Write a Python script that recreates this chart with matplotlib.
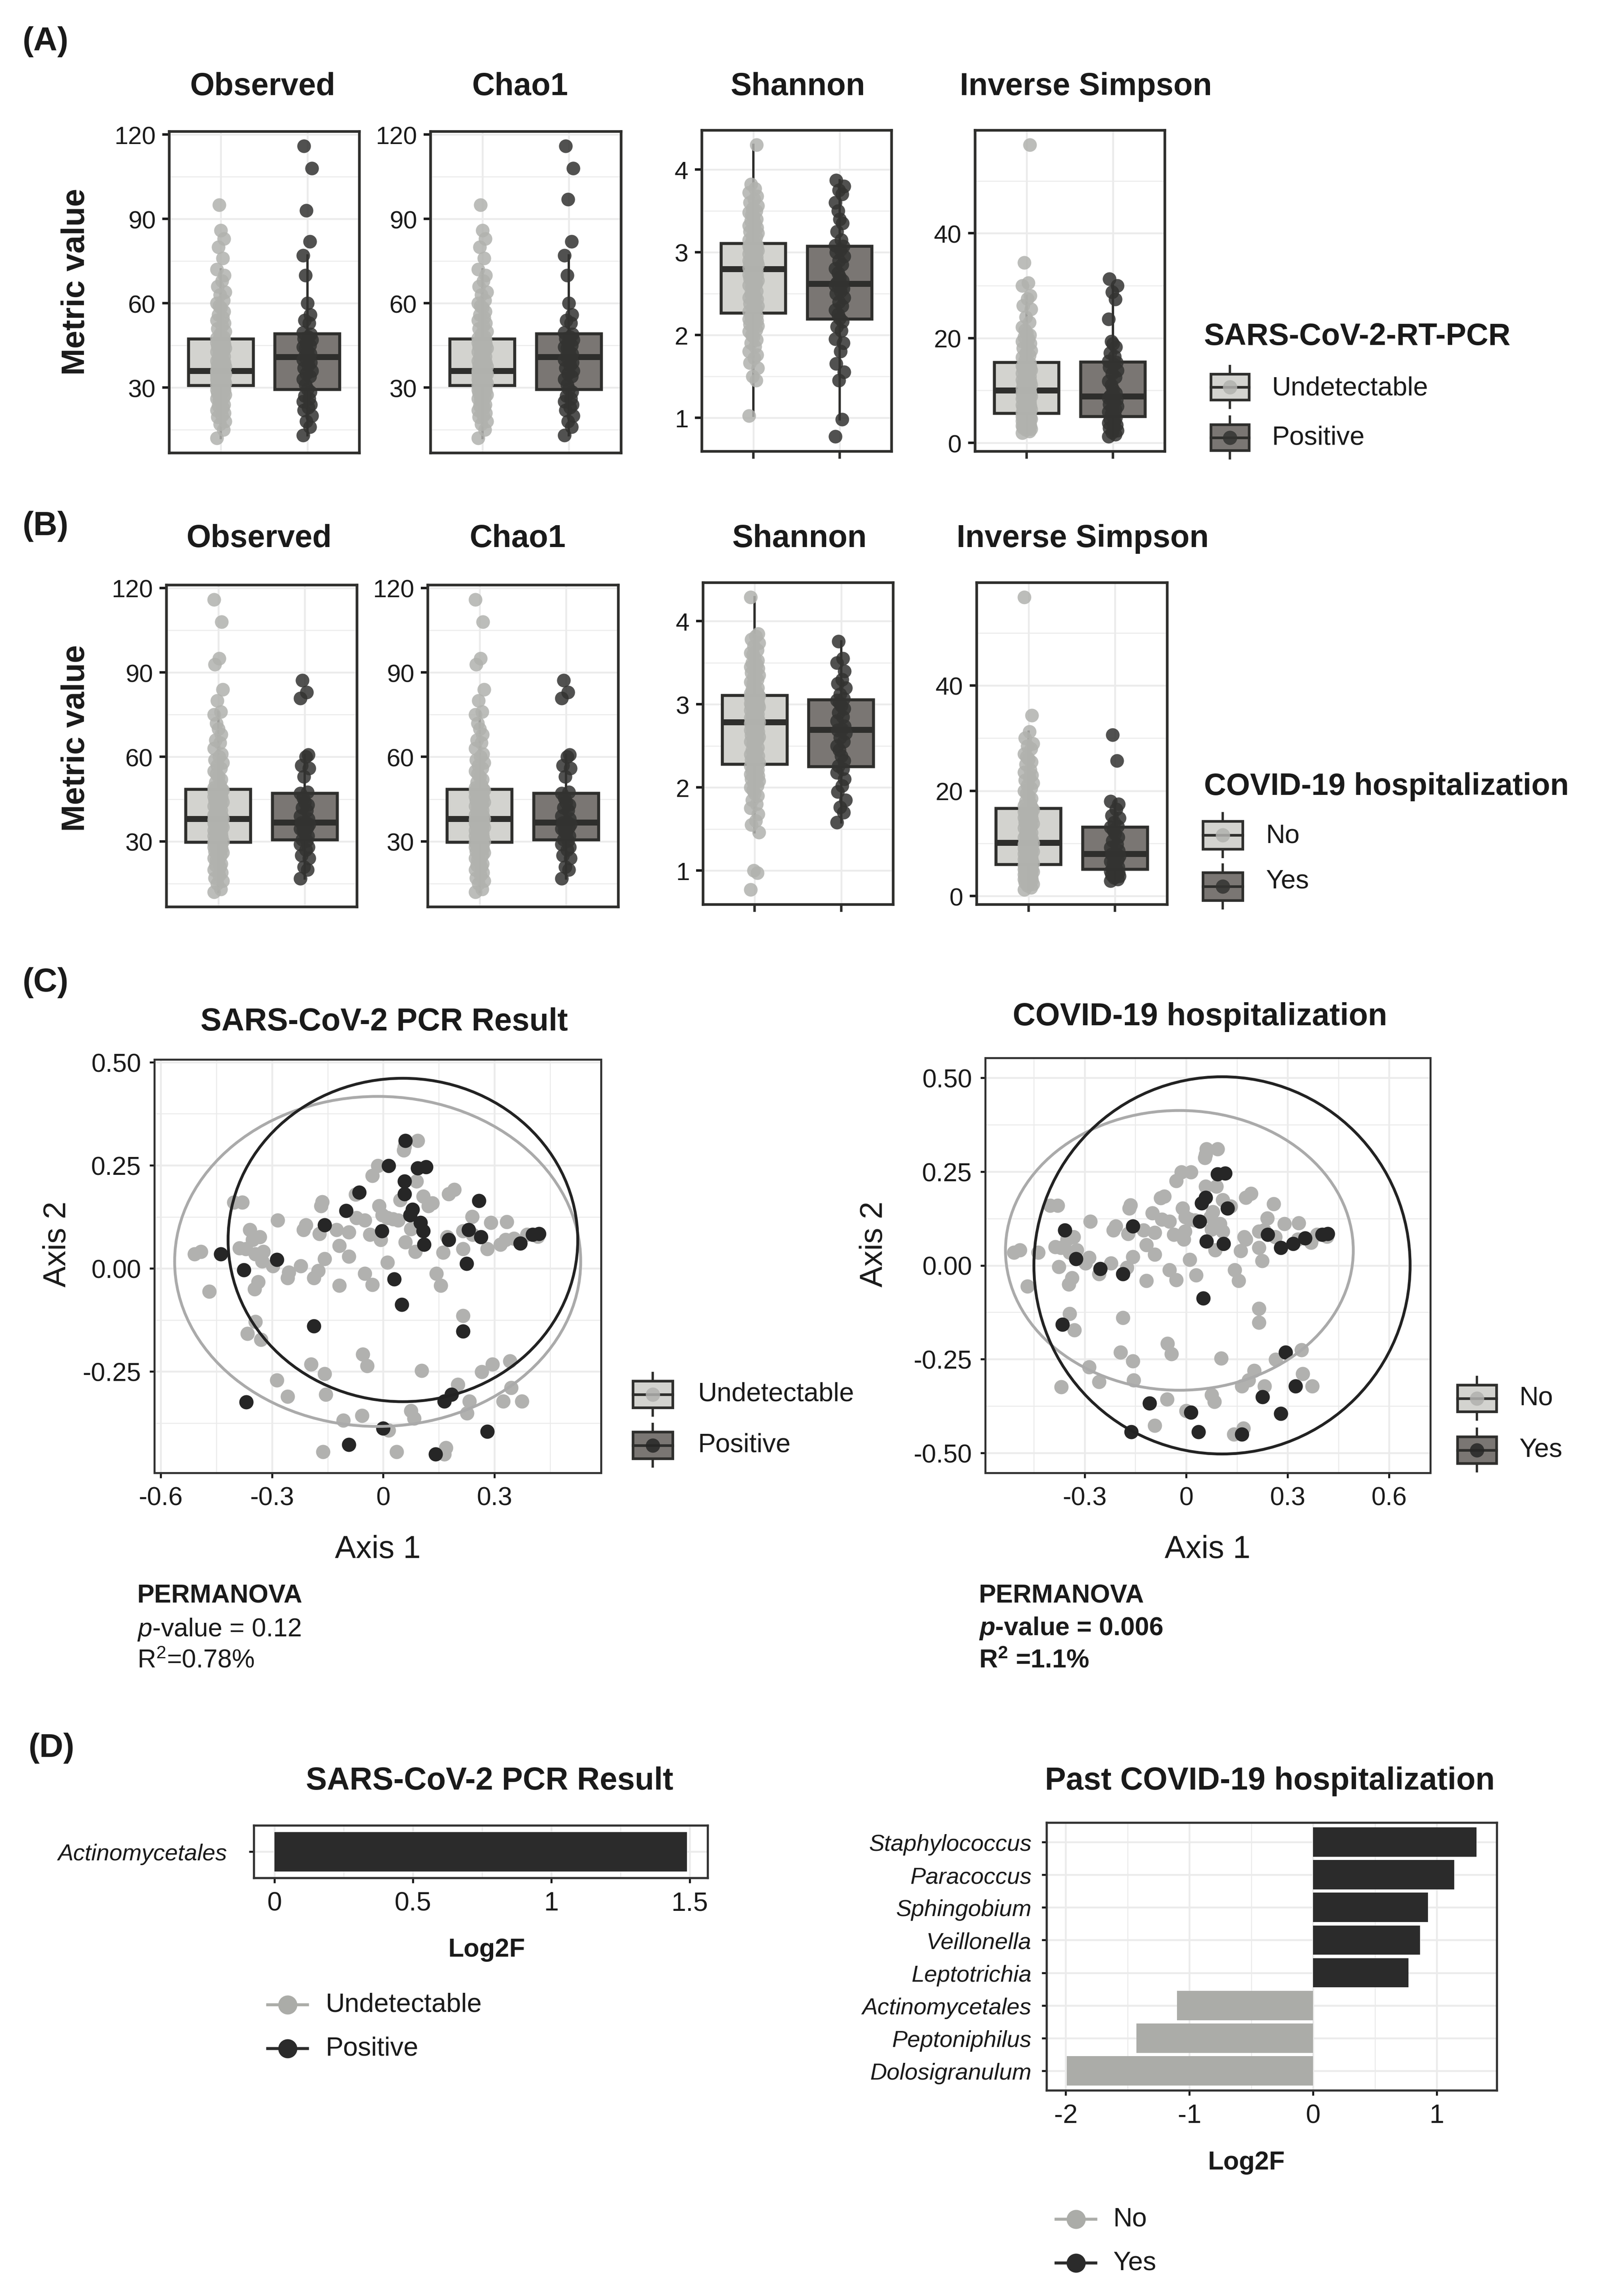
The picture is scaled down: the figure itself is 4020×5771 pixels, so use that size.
import numpy as np
import matplotlib
matplotlib.use('Agg')
import matplotlib.pyplot as plt
from matplotlib.patches import Rectangle, Ellipse

# ---------------- data ----------------
# (A) alpha diversity by SARS-CoV-2 RT-PCR result
obs_pcr_undet = [12, 15, 17, 18, 19.5, 20, 21, 22, 23, 23.5, 24, 25, 25.5, 26, 26.5, 27, 27.5, 28, 28.5, 29, 29.2, 29.6, 30, 30.2, 30.4, 30.6,
                 30.8, 31, 31.4, 31.6, 32, 32.2, 32.5, 32.8, 33, 33.2, 33.5, 33.7, 34, 34.2, 34.4, 34.6, 34.8, 35, 35.1, 35.3, 35.4, 35.6, 35.7, 35.8, 35.9, 35.9,
                 36.1, 36.6, 37, 37.5, 38, 38.6, 39, 39.5, 40, 40.7, 41, 41.6, 42, 42.8, 43, 43.5, 44, 44.6, 45, 45.4, 46, 46.3, 46.7, 47, 47.1, 47.2,
                 47.6, 48, 49, 50, 51, 52, 53, 54, 55, 56, 57, 58.5, 59, 60, 61, 63, 64, 66, 68, 70, 72, 76, 80, 83, 86, 95]
obs_pcr_pos = [13, 16, 18, 20, 22, 23, 24, 25, 26, 27, 28.5,
               29.5, 31, 33, 34, 35, 36, 37, 38, 39, 40, 40.8,
               41, 42, 43, 44, 44.5, 45, 46, 47, 47.5, 48, 49,
               49.5, 53, 54, 56, 60, 70, 77, 82, 93, 108, 116]
chao1_pcr_undet = obs_pcr_undet
chao1_pcr_pos = [13, 16, 18, 20, 22, 23, 24, 25, 26, 27, 28.5,
                 29.5, 31, 33, 34, 35, 36, 37, 38, 39, 40, 40.8,
                 41, 42, 43, 44, 44.5, 45, 46, 47, 47.5, 48, 49,
                 49.5, 53, 54, 56, 60, 70, 77, 82, 97, 108, 116]
shan_pcr_undet = [1.02, 1.45, 1.5, 1.6, 1.66, 1.72, 1.76, 1.8, 1.86, 1.9, 1.94, 1.98, 2.0, 2.04, 2.06, 2.09, 2.11, 2.13, 2.15, 2.17, 2.19, 2.2, 2.22, 2.23, 2.25, 2.26,
                  2.28, 2.31, 2.33, 2.35, 2.38, 2.4, 2.43, 2.45, 2.47, 2.5, 2.53, 2.55, 2.58, 2.6, 2.62, 2.64, 2.66, 2.68, 2.7, 2.72, 2.73, 2.75, 2.76, 2.78, 2.79, 2.8,
                  2.81, 2.82, 2.84, 2.85, 2.86, 2.88, 2.89, 2.9, 2.92, 2.93, 2.94, 2.96, 2.97, 2.98, 3.0, 3.01, 3.02, 3.04, 3.05, 3.06, 3.07, 3.08, 3.09, 3.09,
                  3.11, 3.13, 3.15, 3.18, 3.2, 3.23, 3.25, 3.28, 3.3, 3.32, 3.35, 3.38, 3.4, 3.43, 3.45, 3.48, 3.5, 3.53, 3.56, 3.6, 3.64, 3.68, 3.72, 3.77, 3.82, 4.3]
shan_pcr_pos = [0.77, 0.98, 1.45, 1.55, 1.65, 1.8, 1.9, 1.95, 2.05, 2.1, 2.16,
                2.2, 2.25, 2.3, 2.35, 2.4, 2.45, 2.5, 2.53, 2.56, 2.6, 2.61,
                2.63, 2.66, 2.7, 2.75, 2.8, 2.85, 2.9, 2.95, 3.0, 3.03, 3.07,
                3.08, 3.15, 3.25, 3.35, 3.4, 3.5, 3.6, 3.7, 3.75, 3.8, 3.87]
invs_pcr_undet = [1.9, 2.2, 2.5, 2.7, 2.9, 3.0, 3.2, 3.3, 3.5, 3.6, 3.8, 3.9, 4.0, 4.2, 4.3, 4.4, 4.6, 4.7, 4.8, 4.9, 5.0, 5.2, 5.3, 5.4, 5.5, 5.6,
                  5.8, 6.0, 6.3, 6.4, 6.7, 6.8, 7.1, 7.2, 7.4, 7.7, 7.8, 8.0, 8.3, 8.4, 8.5, 8.8, 8.9, 9.0, 9.2, 9.4, 9.5, 9.7, 9.8, 9.9, 10.0, 10.1,
                  10.3, 10.6, 10.8, 11.1, 11.3, 11.6, 11.8, 12.0, 12.3, 12.5, 12.7, 12.9, 13.2, 13.3, 13.6, 13.7, 13.9, 14.2, 14.3, 14.5, 14.7, 14.8, 15.0, 15.2,
                  15.4, 15.8, 16.3, 16.7, 17.1, 17.6, 18.1, 18.5, 19.0, 19.4, 19.8, 20.2, 20.6, 21.0, 21.5, 22.1, 23.0, 24.0, 25.5, 26.2, 27.5, 28.1, 30.0, 30.5, 34.4, 56.9]
invs_pcr_pos = [1.2, 1.6, 2.0, 2.4, 2.8, 3.1, 3.4, 3.8, 4.1, 4.5, 4.8,
                5.1, 5.5, 5.9, 6.3, 6.7, 7.0, 7.4, 7.8, 8.2, 8.6, 8.85,
                9.0, 9.5, 10.2, 11.0, 11.8, 12.5, 13.2, 13.8, 14.4, 15.0, 15.35,
                15.6, 16.5, 17.2, 18.3, 18.9, 19.4, 23.6, 27.4, 28.8, 30.0, 31.3]

# (B) alpha diversity by COVID-19 hospitalization
obs_hosp_no = [12, 13, 15, 16, 17, 18, 19, 20, 21, 21.5, 22, 23, 23.5, 24, 25, 25.5, 26, 26.5, 27, 27.5, 28, 28, 28.5, 29, 29, 29.3, 29.5, 29.6,
               29.8, 30, 30.5, 31, 31.5, 32, 32.5, 33, 33, 33.5, 34, 34, 34.5, 35, 35, 35.5, 36, 36, 36.5, 36.5, 37, 37, 37.2, 37.5, 37.7, 37.8, 37.9, 38,
               38.1, 38.5, 39, 39.5, 40, 40.5, 41, 41.5, 42, 42.5, 43, 43.5, 44, 44.5, 45, 45.5, 46, 46.5, 46.8, 47, 47.3, 47.5, 47.8, 48, 48.1, 48.2, 48.3, 48.4,
               48.6, 49, 50, 51, 52, 53, 54, 55, 56, 57, 58, 59, 60, 61, 63, 65, 66, 68, 70, 72, 75, 76, 80, 84, 92.8, 95, 107.9, 115.9]
obs_hosp_yes = [16.8, 20, 21, 24, 25, 27, 28, 29, 30.3, 30.7, 32, 33, 34, 34.5, 35, 35.5, 36, 36.6,
                36.8, 38, 39, 41, 42, 43, 44, 45.5, 47, 47.5, 53, 56, 57, 60, 60.8, 80.9, 83, 87.2]
chao1_hosp_no = obs_hosp_no
chao1_hosp_yes = obs_hosp_yes
shan_hosp_no = [0.77, 0.97, 1.0, 1.46, 1.55, 1.6, 1.68, 1.75, 1.8, 1.85, 1.9, 1.93, 1.97, 2.0, 2.02, 2.05, 2.08, 2.1, 2.12, 2.14, 2.16, 2.18, 2.2, 2.21, 2.23, 2.24, 2.26, 2.27,
                2.28, 2.3, 2.33, 2.35, 2.38, 2.4, 2.43, 2.45, 2.48, 2.5, 2.52, 2.55, 2.57, 2.59, 2.61, 2.63, 2.65, 2.67, 2.69, 2.7, 2.72, 2.73, 2.75, 2.76, 2.77, 2.78, 2.78, 2.785,
                2.79, 2.8, 2.82, 2.84, 2.85, 2.87, 2.88, 2.9, 2.91, 2.93, 2.94, 2.95, 2.97, 2.98, 2.99, 3.0, 3.01, 3.03, 3.04, 3.05, 3.06, 3.07, 3.08, 3.09, 3.1, 3.1, 3.105, 3.107,
                3.11, 3.13, 3.15, 3.18, 3.2, 3.22, 3.25, 3.27, 3.3, 3.33, 3.35, 3.38, 3.4, 3.43, 3.45, 3.48, 3.5, 3.53, 3.55, 3.6, 3.62, 3.65, 3.7, 3.74, 3.78, 3.82, 3.85, 4.29]
shan_hosp_yes = [1.58, 1.7, 1.76, 1.85, 1.95, 2.02, 2.1, 2.18, 2.22, 2.26, 2.32, 2.38, 2.45, 2.5, 2.55, 2.6, 2.65, 2.69,
                 2.7, 2.74, 2.8, 2.85, 2.9, 2.95, 2.98, 3.02, 3.05, 3.07, 3.12, 3.2, 3.25, 3.3, 3.4, 3.5, 3.55, 3.76]
invs_hosp_no = [1.2, 1.6, 2.0, 2.3, 2.6, 2.8, 3.0, 3.2, 3.4, 3.5, 3.7, 3.8, 4.0, 4.1, 4.3, 4.4, 4.6, 4.7, 4.9, 5.0, 5.1, 5.3, 5.4, 5.5, 5.6, 5.7, 5.8, 5.9,
                6.0, 6.2, 6.4, 6.6, 6.8, 7.0, 7.1, 7.3, 7.5, 7.7, 7.8, 8.0, 8.2, 8.3, 8.5, 8.7, 8.8, 9.0, 9.1, 9.3, 9.4, 9.5, 9.6, 9.7, 9.8, 9.9, 10.0, 10.05,
                10.2, 10.5, 10.8, 11.1, 11.4, 11.7, 12.0, 12.3, 12.6, 12.9, 13.2, 13.5, 13.8, 14.0, 14.3, 14.6, 14.9, 15.1, 15.3, 15.5, 15.7, 15.9, 16.0, 16.2, 16.3, 16.4, 16.5, 16.6,
                16.8, 17.2, 17.6, 18.0, 18.5, 19.0, 19.5, 20.0, 20.5, 21.0, 21.5, 22.0, 22.5, 23.0, 23.5, 24.0, 25.0, 25.5, 26.0, 26.5, 27.0, 28.0, 28.5, 29.0, 30.0, 31.2, 34.3, 56.8]
invs_hosp_yes = [2.9, 3.2, 3.5, 3.8, 4.0, 4.3, 4.5, 4.7, 4.95, 5.1, 5.5, 5.9, 6.3, 6.6, 7.0, 7.3, 7.6, 7.95,
                 8.05, 8.6, 9.2, 9.8, 10.5, 11.2, 11.9, 12.5, 13.05, 13.2, 14.0, 14.8, 15.3, 16.5, 17.5, 18.0, 25.7, 30.6]

metric_titles = ['Observed', 'Chao1', 'Shannon', 'Inverse Simpson']

# (C) PCoA coordinates, split by (PCR result, hospitalization)
neg_no_x = [-0.509, -0.491, -0.469, -0.402, -0.380, -0.387, -0.370, -0.352, -0.333, -0.344,
            -0.323, -0.347, -0.337, -0.344, -0.330, -0.297, -0.284, -0.258, -0.222, -0.215,
            -0.208, -0.175, -0.172, -0.168, -0.165, -0.158, -0.126, -0.118, -0.118, -0.093,
            -0.093, -0.075, -0.072, -0.050, -0.050, -0.036, -0.029, -0.029, -0.014, -0.011,
            -0.003, -0.007, 0.011, 0.011, 0.026, 0.055, 0.057, 0.075, 0.086, 0.093,
            0.089, 0.108, 0.132, 0.143, 0.155, 0.161, 0.172, 0.176, 0.191, 0.215,
            0.215, 0.240, 0.290, 0.330, 0.333, 0.387, 0.416,
            -0.194, -0.158, -0.155, -0.287, -0.258, -0.057, -0.055, -0.043, 0.075, 0.083,
            0.103, 0.169, 0.201, 0.215, 0.232, 0.265, 0.341, 0.344, 0.373]
neg_no_y = [0.035, 0.041, -0.056, 0.160, 0.160, 0.049, 0.047, 0.070, 0.076, 0.035,
            0.041, -0.050, -0.033, -0.129, -0.172, 0.006, 0.117, -0.023, 0.006, 0.094,
            0.105, -0.006, 0.084, 0.152, 0.161, 0.023, 0.094, 0.055, -0.041, 0.088,
            0.029, 0.180, 0.123, 0.117, -0.012, 0.082, -0.039, 0.225, 0.249, 0.152,
            0.129, 0.070, 0.123, 0.015, 0.120, 0.287, 0.295, 0.096, 0.041, 0.310,
            0.211, 0.175, 0.158, -0.012, -0.041, 0.039, 0.076, 0.181, 0.191, 0.047,
            0.091, 0.126, 0.111, 0.070, 0.113, 0.082, 0.077,
            -0.232, -0.255, -0.306, -0.271, -0.310, -0.357, -0.208, -0.236, -0.345, -0.363,
            -0.248, -0.435, -0.281, -0.115, -0.322, -0.251, -0.225, -0.289, -0.322]
neg_yes_x = [-0.359, -0.326, -0.366, -0.254, -0.187, -0.108, -0.162, 0.014, 0.036, 0.040, 0.046,
             0.060, 0.122, 0.165, 0.226, 0.241, 0.280, 0.294, 0.316, 0.323, 0.352]
neg_yes_y = [0.094, 0.018, -0.158, -0.009, -0.023, -0.368, -0.444, -0.392, -0.444, 0.117, 0.166,
             0.064, 0.152, -0.450, -0.351, 0.082, 0.047, -0.232, 0.058, -0.322, 0.073]
pos_no_x = [-0.438, -0.376, -0.287, -0.100, -0.065, -0.004, 0.014, 0.029, 0.057, 0.060,
            0.072, 0.079, 0.100, 0.108, 0.176, 0.225, 0.230, 0.258, 0.263, 0.369,
            -0.187, 0.215, 0.165, 0.184, -0.369, 0.0, -0.093, 0.141]
pos_no_y = [0.035, -0.004, 0.021, 0.140, 0.184, 0.091, 0.249, -0.026, 0.211, 0.310,
            0.129, 0.143, 0.111, 0.091, 0.070, 0.012, 0.094, 0.164, 0.076, 0.061,
            -0.140, -0.152, -0.322, -0.306, -0.324, -0.388, -0.427, -0.450]
pos_yes_x = [-0.158, 0.050, 0.057, 0.093, 0.115, 0.110, 0.280, 0.402, 0.419]
pos_yes_y = [0.105, -0.088, 0.181, 0.243, 0.246, 0.058, -0.395, 0.082, 0.084]

# 95% ellipses (centre, semi-axes)
pcr_ell_center = [(-0.015, 0.017), (0.053, 0.069)]
pcr_ell_radii = [(0.547, 0.400), (0.471, 0.392)]
hosp_ell_center = [(-0.020, 0.040), (0.106, 0.0)]
hosp_ell_radii = [(0.514, 0.373), (0.556, 0.503)]

# (D) differential abundance
pcr_taxa = ['Actinomycetales']
pcr_log2f = [1.49]
hosp_taxa = ['Staphylococcus', 'Paracoccus', 'Sphingobium', 'Veillonella', 'Leptotrichia',
             'Actinomycetales', 'Peptoniphilus', 'Dolosigranulum']
hosp_log2f = [1.32, 1.14, 0.93, 0.866, 0.77, -1.10, -1.43, -1.99]

# ---------------- style ----------------
plt.rcParams['font.family'] = ['Liberation Sans', 'DejaVu Sans']
plt.rcParams['mathtext.fontset'] = 'custom'
plt.rcParams['mathtext.rm'] = 'Liberation Sans'
plt.rcParams['mathtext.it'] = 'Liberation Sans:italic'
plt.rcParams['mathtext.bf'] = 'Liberation Sans:bold'
plt.rcParams['mathtext.bfit'] = 'Liberation Sans:italic:bold'

LIGHT_PT = '#b1b2ae'
DARK_PT = '#333331'
LIGHT_BOX = '#d3d3cf'
DARK_BOX = '#7a7673'
EDGE = '#2e2e2c'
GRID = '#ebebeb'
TXT = '#1a1a1a'
PC_LIGHT = '#b1b1af'
PC_DARK = '#262626'
BAR_DARK = '#2b2b2b'
BAR_LIGHT = '#abaca8'

JITTER = np.array([-0.05, 0.03, -0.01, 0.05, -0.04, 0.01, 0.04, -0.05, 0.02, -0.03, 0.035, 0.0, -0.02])

W, H = 4020, 5772
fig = plt.figure(figsize=(W / 300, H / 300), dpi=300)


def add_ax(l, t, r, b):
    return fig.add_axes([l / W, 1 - b / H, (r - l) / W, (b - t) / H])


def frame(ax, color, lw):
    for s in ax.spines.values():
        s.set_color(color)
        s.set_linewidth(lw)


def box_panel(ax, light, dark, major, minor, xticks_on):
    allv = light + dark
    lo, hi = min(allv), max(allv)
    pad = (hi - lo) * 0.05
    bp = ax.boxplot([light, dark], positions=[1, 2], widths=0.75, patch_artist=True,
                    showfliers=False, showcaps=False,
                    medianprops=dict(color=EDGE, lw=3.6),
                    boxprops=dict(edgecolor=EDGE, lw=1.8),
                    whiskerprops=dict(color=EDGE, lw=1.4))
    for patch, c in zip(bp['boxes'], [LIGHT_BOX, DARK_BOX]):
        patch.set_facecolor(c)
    for pos, vals, c in [(1, light, LIGHT_PT), (2, dark, DARK_PT)]:
        jit = np.resize(JITTER, len(vals))
        ax.scatter(pos + jit, vals, s=68, color=c, alpha=0.85, lw=0, zorder=3)
    ax.set_xlim(0.4, 2.6)
    ax.set_ylim(lo - pad, hi + pad)
    ax.set_yticks(major)
    ax.set_yticks(minor, minor=True)
    ax.set_yticklabels([f'{v:g}' for v in major])
    ax.set_xticks([1, 2])
    ax.set_xticklabels(['', ''])
    ax.grid(which='major', color=GRID, lw=1.1)
    ax.grid(which='minor', axis='y', color=GRID, lw=0.6)
    ax.set_axisbelow(True)
    ax.tick_params(axis='y', which='major', length=4, width=1.5, labelsize=15, colors=TXT, pad=4)
    ax.tick_params(axis='y', which='minor', length=0)
    ax.tick_params(axis='x', length=4.5 if xticks_on else 0, width=1.5, color=EDGE)
    frame(ax, EDGE, 1.6)


specs = [([30, 60, 90, 120], [15, 45, 75, 105], False),
         ([30, 60, 90, 120], [15, 45, 75, 105], False),
         ([1, 2, 3, 4], [1.5, 2.5, 3.5], True),
         ([0, 20, 40], [10, 30, 50], True)]

A_boxes = [(425, 331, 903, 1139), (1082, 331, 1561, 1139), (1764, 328, 2241, 1135), (2451, 328, 2928, 1135)]
B_boxes = [(418, 1471, 897, 2280), (1075, 1471, 1554, 2280), (1767, 1465, 2245, 2274), (2455, 1465, 2934, 2274)]
A_data = [(obs_pcr_undet, obs_pcr_pos), (chao1_pcr_undet, chao1_pcr_pos),
          (shan_pcr_undet, shan_pcr_pos), (invs_pcr_undet, invs_pcr_pos)]
B_data = [(obs_hosp_no, obs_hosp_yes), (chao1_hosp_no, chao1_hosp_yes),
          (shan_hosp_no, shan_hosp_yes), (invs_hosp_no, invs_hosp_yes)]

for box, (lt, dk), (maj, mnr, xt) in zip(A_boxes, A_data, specs):
    box_panel(add_ax(*box), lt, dk, maj, mnr, xt)
for box, (lt, dk), (maj, mnr, xt) in zip(B_boxes, B_data, specs):
    box_panel(add_ax(*box), lt, dk, maj, mnr, xt)


# ---------------- (C) PCoA ----------------
def pcoa_panel(ax, light_sets, dark_sets, centers, radii, xmaj, xmin_, ymaj, ymin_):
    lx = sum([s[0] for s in light_sets], [])
    ly = sum([s[1] for s in light_sets], [])
    dx = sum([s[0] for s in dark_sets], [])
    dy = sum([s[1] for s in dark_sets], [])
    ax.scatter(lx, ly, s=74, color=PC_LIGHT, lw=0, zorder=2)
    ax.scatter(dx, dy, s=74, color=PC_DARK, lw=0, zorder=3)
    ex, ey = lx + dx, ly + dy
    for (cx, cy), (rx, ry), col in zip(centers, radii, ['#aaaaaa', '#222222']):
        ax.add_patch(Ellipse((cx, cy), 2 * rx, 2 * ry, fill=False, edgecolor=col, lw=1.7, zorder=4))
        ex += [cx - rx, cx + rx]
        ey += [cy - ry, cy + ry]
    px = (max(ex) - min(ex)) * 0.05
    py = (max(ey) - min(ey)) * 0.05
    ax.set_xlim(min(ex) - px, max(ex) + px)
    ax.set_ylim(min(ey) - py, max(ey) + py)
    ax.set_xticks(xmaj)
    ax.set_xticks(xmin_, minor=True)
    ax.set_yticks(ymaj)
    ax.set_yticks(ymin_, minor=True)
    ax.set_xticklabels([f'{v:g}' for v in xmaj])
    ax.set_yticklabels([f'{v:.2f}' for v in ymaj])
    ax.grid(which='major', color=GRID, lw=1.1)
    ax.grid(which='minor', color=GRID, lw=0.6)
    ax.set_axisbelow(True)
    ax.tick_params(which='major', length=3, width=1.2, labelsize=15.5, colors=TXT, pad=5)
    ax.tick_params(which='minor', length=0)
    frame(ax, '#333333', 1.2)


axC1 = add_ax(388, 2664, 1511, 3703)
pcoa_panel(axC1, [(neg_no_x, neg_no_y), (neg_yes_x, neg_yes_y)],
           [(pos_no_x, pos_no_y), (pos_yes_x, pos_yes_y)],
           pcr_ell_center, pcr_ell_radii,
           [-0.6, -0.3, 0, 0.3], [-0.45, -0.15, 0.15, 0.45],
           [-0.25, 0, 0.25, 0.5], [-0.375, -0.125, 0.125, 0.375])
axC2 = add_ax(2477, 2660, 3596, 3703)
pcoa_panel(axC2, [(neg_no_x, neg_no_y), (pos_no_x, pos_no_y)],
           [(neg_yes_x, neg_yes_y), (pos_yes_x, pos_yes_y)],
           hosp_ell_center, hosp_ell_radii,
           [-0.3, 0, 0.3, 0.6], [-0.45, -0.15, 0.15, 0.45],
           [-0.5, -0.25, 0, 0.25, 0.5], [-0.375, -0.125, 0.125, 0.375])


# ---------------- (D) bars ----------------
def bar_panel(ax, taxa, vals, xmaj, xmin_, ypad):
    n = len(taxa)
    pos = np.arange(n, 0, -1)
    cols = [BAR_DARK if v > 0 else BAR_LIGHT for v in vals]
    ax.barh(pos, vals, height=0.9, color=cols, zorder=3)
    span = max(max(vals), 0) - min(min(vals), 0)
    ax.set_xlim(min(min(vals), 0) - span * 0.05, max(max(vals), 0) + span * 0.05)
    ax.set_ylim(0.4, n + 0.6)
    ax.set_yticks(pos)
    ax.set_yticklabels(taxa, fontstyle='italic', fontsize=14)
    ax.set_xticks(xmaj)
    ax.set_xticks(xmin_, minor=True)
    ax.set_xticklabels([f'{v:g}' for v in xmaj])
    ax.grid(which='major', color=GRID, lw=1.1)
    ax.grid(which='minor', axis='x', color=GRID, lw=0.6)
    ax.set_axisbelow(True)
    ax.tick_params(axis='x', which='major', length=3, width=1.2, labelsize=16, colors=TXT, pad=5)
    ax.tick_params(axis='y', which='major', length=3, width=1.2, colors=TXT, pad=ypad)
    ax.tick_params(which='minor', length=0)
    frame(ax, '#333333', 1.3)


axD1 = add_ax(638, 4589, 1779, 4721)
bar_panel(axD1, pcr_taxa, pcr_log2f, [0, 0.5, 1, 1.5], [0.25, 0.75, 1.25], 13)
axD2 = add_ax(2631, 4582, 3763, 5255)
bar_panel(axD2, hosp_taxa, hosp_log2f, [-2, -1, 0, 1], [-1.5, -0.5, 0.5], 6)

# ---------------- overlay: labels, titles, legends ----------------
ov = fig.add_axes([0, 0, 1, 1], zorder=10)
ov.axis('off')


def txt(x, y, s, size, weight='normal', ha='center', va='center', rot=0, style='normal'):
    ov.text(x, y, s, fontsize=size, fontweight=weight, ha=ha, va=va, rotation=rot,
            fontstyle=style, color=TXT)


def box_key(x0, y0, w, h, face, pt):
    cx, cy = x0 + w / 2, y0 + h / 2
    ov.plot([cx, cx], [y0 - 20, y0 + h + 20], color=EDGE, lw=1.4, zorder=1)
    ov.add_patch(Rectangle((x0, y0), w, h, facecolor=face, edgecolor=EDGE, lw=1.6, zorder=2))
    ov.plot([x0, x0 + w], [cy, cy], color=EDGE, lw=1.6, zorder=3)
    ov.scatter([cx], [cy], s=74, color=pt, alpha=0.85, lw=0, zorder=4)


def dot_key(cx, cy, col):
    ov.plot([cx - 50, cx + 50], [cy, cy], color=col, lw=1.8, zorder=1)
    ov.plot([cx], [cy], 'o', color=col, markersize=10.5, zorder=2)


# panel letters
for s, x, y in [('(A)', 115, 105), ('(B)', 115, 1323), ('(C)', 115, 2470), ('(D)', 130, 4394)]:
    txt(x, y, s, 20, 'bold')

# alpha-diversity titles and y label
for t, x in zip(metric_titles, [661, 1308, 2006, 2730]):
    txt(x, 218, t, 19, 'bold')
for t, x in zip(metric_titles, [652, 1302, 2010, 2722]):
    txt(x, 1354, t, 19, 'bold')
txt(191, 708, 'Metric value', 19.5, 'bold', rot=90)
txt(191, 1855, 'Metric value', 19.5, 'bold', rot=90)

# legends A / B
txt(3027, 846, 'SARS-CoV-2-RT-PCR', 18.5, 'bold', ha='left')
box_key(3044, 941, 96, 65, LIGHT_BOX, LIGHT_PT)
box_key(3044, 1068, 96, 65, DARK_BOX, DARK_PT)
txt(3198, 976, 'Undetectable', 16, ha='left')
txt(3198, 1100, 'Positive', 16, ha='left')

txt(3027, 1977, 'COVID-19 hospitalization', 18.5, 'bold', ha='left')
box_key(3024, 2065, 100, 70, LIGHT_BOX, LIGHT_PT)
box_key(3024, 2194, 100, 70, DARK_BOX, DARK_PT)
txt(3183, 2102, 'No', 16, ha='left')
txt(3183, 2216, 'Yes', 16, ha='left')

# panel C texts
txt(966, 2570, 'SARS-CoV-2 PCR Result', 19, 'bold')
txt(3017, 2557, 'COVID-19 hospitalization', 19, 'bold')
txt(950, 3896, 'Axis 1', 19)
txt(3036, 3896, 'Axis 1', 19)
txt(145, 3127, 'Axis 2', 19, rot=90)
txt(2198, 3127, 'Axis 2', 19, rot=90)
box_key(1591, 3472, 100, 67, LIGHT_BOX, PC_LIGHT)
box_key(1591, 3600, 100, 67, DARK_BOX, PC_DARK)
txt(1755, 3505, 'Undetectable', 16, ha='left')
txt(1755, 3633, 'Positive', 16, ha='left')
box_key(3664, 3482, 98, 67, LIGHT_BOX, PC_LIGHT)
box_key(3664, 3612, 98, 67, DARK_BOX, PC_DARK)
txt(3820, 3515, 'No', 16, ha='left')
txt(3820, 3645, 'Yes', 16, ha='left')

txt(345, 4012, 'PERMANOVA', 15.5, 'bold', ha='left')
txt(345, 4096, r'$\mathit{p}$-value = 0.12', 15.5, ha='left')
txt(345, 4175, r'R$^{2}$=0.78%', 15.5, ha='left')
txt(2461, 4012, 'PERMANOVA', 15.5, 'bold', ha='left')
txt(2461, 4093, r'$\mathbfit{p}$-value = 0.006', 15.5, 'bold', ha='left')
txt(2461, 4175, r'R$^{\mathbf{2}}$ =1.1%', 15.5, 'bold', ha='left')

# panel D texts
txt(1231, 4478, 'SARS-CoV-2 PCR Result', 19, 'bold')
txt(3192, 4478, 'Past COVID-19 hospitalization', 19, 'bold')
txt(1224, 4901, 'Log2F', 15.5, 'bold')
txt(3134, 5436, 'Log2F', 15.5, 'bold')
dot_key(723, 5040, BAR_LIGHT)
dot_key(723, 5150, BAR_DARK)
txt(819, 5040, 'Undetectable', 16, ha='left')
txt(819, 5150, 'Positive', 16, ha='left')
dot_key(2705, 5579, BAR_LIGHT)
dot_key(2705, 5689, BAR_DARK)
txt(2799, 5579, 'No', 16, ha='left')
txt(2799, 5689, 'Yes', 16, ha='left')

ov.set_xlim(0, W)
ov.set_ylim(H, 0)

fig.savefig('out.png', dpi=300, facecolor='white')
